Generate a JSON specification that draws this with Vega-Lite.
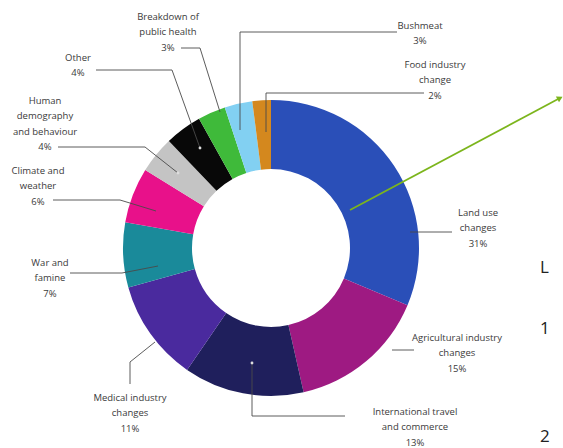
{
  "$schema": "https://vega.github.io/schema/vega-lite/v6.json",
  "width": 563,
  "height": 448,
  "autosize": "none",
  "padding": 0,
  "background": "white",
  "config": {"view": {"stroke": null}},
  "datasets": {
    "slices": [
      {"cause": "Land use changes", "pct": 31, "order": 1},
      {"cause": "Agricultural industry changes", "pct": 15, "order": 2},
      {"cause": "International travel and commerce", "pct": 13, "order": 3},
      {"cause": "Medical industry changes", "pct": 11, "order": 4},
      {"cause": "War and famine", "pct": 7, "order": 5},
      {"cause": "Climate and weather", "pct": 6, "order": 6},
      {"cause": "Human demography and behaviour", "pct": 4, "order": 7},
      {"cause": "Other", "pct": 4, "order": 8},
      {"cause": "Breakdown of public health", "pct": 3, "order": 9},
      {"cause": "Bushmeat", "pct": 3, "order": 10},
      {"cause": "Food industry change", "pct": 2, "order": 11}
    ],
    "labels": [
      {"label": "Land use|changes|31%", "lx": 478, "ly": 212},
      {"label": "Agricultural industry|changes|15%", "lx": 457, "ly": 337},
      {"label": "International travel|and commerce|13%", "lx": 415, "ly": 411},
      {"label": "Medical industry|changes|11%", "lx": 130, "ly": 397},
      {"label": "War and|famine|7%", "lx": 50, "ly": 262},
      {"label": "Climate and|weather|6%", "lx": 38, "ly": 170},
      {"label": "Human|demography|and behaviour|4%", "lx": 45, "ly": 100},
      {"label": "Other|4%", "lx": 78, "ly": 57},
      {"label": "Breakdown of|public health|3%", "lx": 168, "ly": 16},
      {"label": "Bushmeat|3%", "lx": 420, "ly": 25},
      {"label": "Food industry|change|2%", "lx": 435, "ly": 64}
    ],
    "leaders": [
      {"id": "breakdown", "step": 1, "lx": 181, "ly": 48},
      {"id": "breakdown", "step": 2, "lx": 200, "ly": 48},
      {"id": "breakdown", "step": 3, "lx": 220, "ly": 112},
      {"id": "other", "step": 1, "lx": 96, "ly": 70},
      {"id": "other", "step": 2, "lx": 172, "ly": 70},
      {"id": "other", "step": 3, "lx": 200, "ly": 148},
      {"id": "human", "step": 1, "lx": 58, "ly": 147},
      {"id": "human", "step": 2, "lx": 145, "ly": 147},
      {"id": "human", "step": 3, "lx": 178, "ly": 173},
      {"id": "climate", "step": 1, "lx": 53, "ly": 200},
      {"id": "climate", "step": 2, "lx": 120, "ly": 200},
      {"id": "climate", "step": 3, "lx": 156, "ly": 211},
      {"id": "war", "step": 1, "lx": 70, "ly": 273},
      {"id": "war", "step": 2, "lx": 122, "ly": 273},
      {"id": "war", "step": 3, "lx": 158, "ly": 266},
      {"id": "medical", "step": 1, "lx": 130, "ly": 384},
      {"id": "medical", "step": 2, "lx": 130, "ly": 362},
      {"id": "medical", "step": 3, "lx": 155, "ly": 342},
      {"id": "intl", "step": 1, "lx": 345, "ly": 416},
      {"id": "intl", "step": 2, "lx": 252, "ly": 416},
      {"id": "intl", "step": 3, "lx": 252, "ly": 363},
      {"id": "agri", "step": 1, "lx": 392, "ly": 350},
      {"id": "agri", "step": 2, "lx": 414, "ly": 350},
      {"id": "land", "step": 1, "lx": 410, "ly": 232},
      {"id": "land", "step": 2, "lx": 452, "ly": 232},
      {"id": "bush", "step": 1, "lx": 397, "ly": 32},
      {"id": "bush", "step": 2, "lx": 240, "ly": 32},
      {"id": "bush", "step": 3, "lx": 240, "ly": 130},
      {"id": "food", "step": 1, "lx": 424, "ly": 93},
      {"id": "food", "step": 2, "lx": 266, "ly": 93},
      {"id": "food", "step": 3, "lx": 266, "ly": 132}
    ],
    "dots": [
      {"lx": 200, "ly": 148},
      {"lx": 252, "ly": 363},
      {"lx": 178, "ly": 173}
    ],
    "arrow": [
      {"step": 1, "lx": 350, "ly": 210},
      {"step": 2, "lx": 560, "ly": 98}
    ],
    "arrowhead": [
      {"lx": 560, "ly": 98}
    ],
    "fragments": [
      {"t": "L", "lx": 540, "ly": 268},
      {"t": "1", "lx": 540, "ly": 329},
      {"t": "2", "lx": 540, "ly": 437}
    ]
  },
  "layer": [
    {
      "data": {"name": "slices"},
      "mark": {"type": "arc", "outerRadius": 148, "innerRadius": 79},
      "encoding": {
        "x": {"datum": 271, "type": "quantitative", "scale": {"domain": [0, 563], "nice": false, "zero": false}, "axis": null},
        "y": {"datum": 248, "type": "quantitative", "scale": {"domain": [0, 448], "reverse": true, "nice": false, "zero": false}, "axis": null},
        "theta": {"field": "pct", "type": "quantitative", "stack": true},
        "order": {"field": "order", "type": "quantitative"},
        "color": {
          "field": "cause",
          "type": "nominal",
          "scale": {
            "domain": ["Land use changes", "Agricultural industry changes", "International travel and commerce", "Medical industry changes", "War and famine", "Climate and weather", "Human demography and behaviour", "Other", "Breakdown of public health", "Bushmeat", "Food industry change"],
            "range": ["#2a4fb8", "#9e1a82", "#1f1f5c", "#4a2a9e", "#1a8a9a", "#e8118a", "#c4c4c4", "#080808", "#3fba3a", "#82d0f2", "#d4881e"]
          },
          "legend": null
        }
      }
    },
    {
      "data": {"name": "leaders"},
      "mark": {"type": "line", "stroke": "#4a4a4a", "strokeWidth": 0.9},
      "encoding": {
        "x": {"field": "lx", "type": "quantitative", "axis": null},
        "y": {"field": "ly", "type": "quantitative", "axis": null},
        "detail": {"field": "id"},
        "order": {"field": "step", "type": "quantitative"}
      }
    },
    {
      "data": {"name": "dots"},
      "mark": {"type": "point", "filled": true, "size": 8, "color": "#dddddd", "opacity": 1},
      "encoding": {
        "x": {"field": "lx", "type": "quantitative", "axis": null},
        "y": {"field": "ly", "type": "quantitative", "axis": null}
      }
    },
    {
      "data": {"name": "arrow"},
      "mark": {"type": "line", "stroke": "#7cb51c", "strokeWidth": 1.8},
      "encoding": {
        "x": {"field": "lx", "type": "quantitative", "axis": null},
        "y": {"field": "ly", "type": "quantitative", "axis": null},
        "order": {"field": "step", "type": "quantitative"}
      }
    },
    {
      "data": {"name": "arrowhead"},
      "mark": {"type": "point", "shape": "triangle-up", "filled": true, "size": 45, "angle": 62, "color": "#7cb51c", "opacity": 1},
      "encoding": {
        "x": {"field": "lx", "type": "quantitative", "axis": null},
        "y": {"field": "ly", "type": "quantitative", "axis": null}
      }
    },
    {
      "data": {"name": "labels"},
      "mark": {"type": "text", "align": "center", "baseline": "alphabetic", "dy": 3.5, "lineBreak": "|", "lineHeight": 15.5, "font": "Open Sans", "fontSize": 9.5, "color": "#3a3a3a"},
      "encoding": {
        "x": {"field": "lx", "type": "quantitative", "axis": null},
        "y": {"field": "ly", "type": "quantitative", "axis": null},
        "text": {"field": "label"}
      }
    },
    {
      "data": {"name": "fragments"},
      "mark": {"type": "text", "align": "left", "baseline": "middle", "font": "Open Sans", "fontSize": 17, "color": "#222222"},
      "encoding": {
        "x": {"field": "lx", "type": "quantitative", "axis": null},
        "y": {"field": "ly", "type": "quantitative", "axis": null},
        "text": {"field": "t"}
      }
    }
  ]
}
